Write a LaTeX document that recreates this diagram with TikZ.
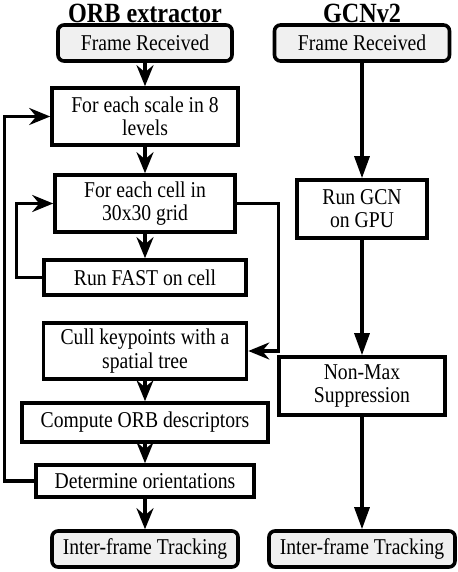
\documentclass[tikz,border=0pt]{standalone}
\usepackage{fontspec}
\setmainfont{LiberationSerif}[Extension=.ttf, UprightFont=*-Regular, BoldFont=*-Bold, FakeStretch=0.87]
\usetikzlibrary{arrows.meta}

\begin{document}
\begin{tikzpicture}[x=0.5pt,y=-0.5pt,
  proc/.style={draw, line width=1.8pt, align=center, inner sep=0pt,
    font=\rmfamily\fontsize{11.3}{11.6}\selectfont},
  term/.style={proc, rounded corners=3pt, fill=gray!12},
  ttl/.style={font=\rmfamily\bfseries\fontsize{13.9}{15}\selectfont},
  orb/.style={draw, line width=1.6pt, -{Stealth[length=10.5pt,width=8.5pt,inset=3.5pt]}},
  gcn/.style={draw, line width=1.6pt, -{Triangle[length=11pt,width=7.5pt]}}]
\useasboundingbox (0,0) rectangle (458,572);

\node[ttl] (T0) at (145,13) {ORB extractor};
\node[ttl] (T1) at (362,13) {GCNv2};

\node[term, minimum width=87pt, minimum height=18pt] (O0) at (145,43) {Frame Received};
\node[proc, minimum width=93pt, minimum height=28.5pt] (O1) at (145,116.5) {For each scale in 8\\levels};
\node[proc, minimum width=90pt, minimum height=28.5pt] (O2) at (145,203.5) {For each cell in\\30x30 grid};
\node[proc, minimum width=101pt, minimum height=17.5pt] (O3) at (145,277.5) {Run FAST on cell};
\node[proc, minimum width=101.5pt, minimum height=28pt] (O4) at (145,351) {Cull keypoints with a\\spatial tree};
\node[proc, minimum width=123pt, minimum height=19.5pt] (O5) at (145,422.5) {Compute ORB descriptors};
\node[proc, minimum width=109pt, minimum height=16pt] (O6) at (145,481) {Determine orientations};
\node[term, minimum width=93pt, minimum height=18pt] (O7) at (145,549) {Inter-frame Tracking};

\node[term, minimum width=87.5pt, minimum height=18pt] (G0) at (362,43) {Frame Received};
\node[proc, minimum width=65pt, minimum height=29pt] (G1) at (362,209) {Run GCN\\on GPU};
\node[proc, minimum width=83pt, minimum height=29pt] (G2) at (362,386) {Non-Max\\Suppression};
\node[term, minimum width=93pt, minimum height=18pt] (G3) at (362,549) {Inter-frame Tracking};

\path[orb]
(O0) edge (O1)
(O1) edge (O2)
(O2) edge (O3)
(O4) edge (O5)
(O5) edge (O6)
(O6) edge (O7);

\draw[orb] (O6.west) -- ++(-30,0) |- (O1.west);
\draw[orb] (O3.west) -- ++(-26,0) |- (O2.west);
\draw[orb] (O2.east) -- ++(42,0) |- (O4.east);

\path[gcn]
(G0) edge (G1)
(G1) edge (G2)
(G2) edge (G3);
\end{tikzpicture}
\end{document}
